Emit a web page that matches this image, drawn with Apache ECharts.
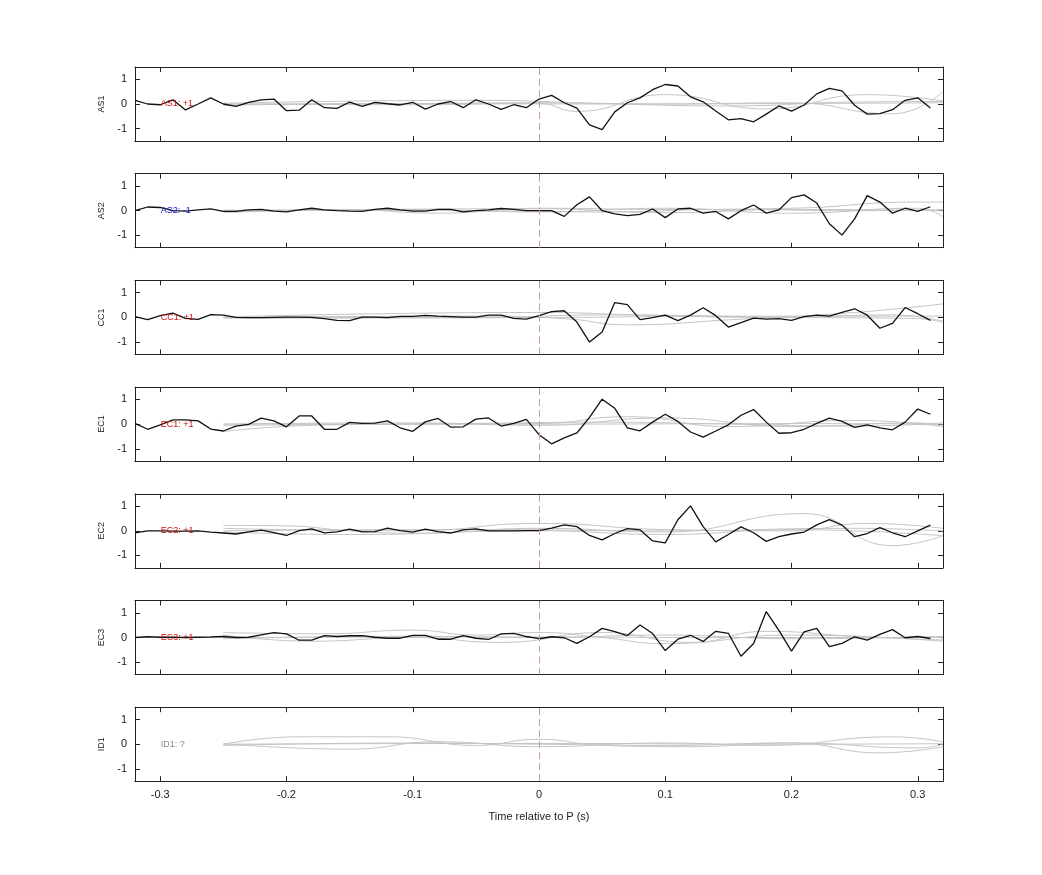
<!DOCTYPE html>
<html>
<head>
<meta charset="utf-8">
<script src="https://cdn.jsdelivr.net/npm/echarts@6/dist/echarts.min.js"></script>
<style>html,body{margin:0;background:#fff}#c{width:1042px;height:875px}</style>
</head>
<body>
<div id="c"></div>
<script>
const stations = ['AS1', 'AS2', 'CC1', 'EC1', 'EC2', 'EC3', 'ID1']
const polarity = ['+1', '-1', '+1', '+1', '+1', '+1', '?']
const polColor = ['#d01010', '#1010d0', '#d01010', '#d01010', '#d01010', '#d01010', '#888888']
const xTicks = [-0.3, -0.2, -0.1, 0, 0.1, 0.2, 0.3]
const yTicks = [-1, 0, 1]

// black trace: samples every 0.01 s from -0.32 to 0.31
const tStart = -0.32
const traces = [
    [0.15,0,-0.03,0.17,-0.24,0,0.25,0,-0.1,0.07,0.17,0.2,-0.27,-0.25,0.17,-0.15,-0.18,0.08,-0.1,0.07,0.01,-0.04,0.07,-0.21,0,0.1,-0.15,0.17,0,-0.22,-0.03,-0.15,0.2,
     0.35,0.05,-0.17,-0.85,-1.04,-0.32,0.05,0.25,0.58,0.79,0.73,0.29,0.09,-0.28,-0.64,-0.59,-0.72,-0.41,-0.08,-0.29,-0.04,0.41,0.63,0.53,-0.05,-0.41,-0.39,-0.23,0.15,0.25,-0.16],
    [0,0.15,0.13,0,-0.02,0.03,0.07,-0.03,-0.03,0.03,0.05,-0.02,-0.05,0.03,0.1,0.03,0,-0.02,-0.03,0.05,0.1,0.03,-0.02,-0.02,0.05,0.05,-0.05,0,0.03,0.09,0.05,0,0,
     0,-0.23,0.24,0.56,0,-0.13,-0.2,-0.15,0.07,-0.28,0.07,0.1,-0.1,-0.03,-0.33,0,0.23,-0.1,0.03,0.53,0.64,0.31,-0.53,-0.99,-0.33,0.61,0.35,-0.1,0.1,-0.03,0.16],
    [0.03,-0.09,0.07,0.17,-0.04,-0.08,0.11,0.09,0,-0.01,-0.01,0,0.01,0.01,0,-0.05,-0.12,-0.13,0.01,0.01,-0.01,0.04,0.04,0.08,0.05,0.03,0.01,0.01,0.09,0.09,-0.04,-0.07,0.07,
     0.23,0.27,-0.19,-1.0,-0.59,0.6,0.52,-0.09,-0.01,0.09,-0.13,0.09,0.39,0.07,-0.39,-0.21,-0.03,-0.07,-0.05,-0.12,0.03,0.09,0.05,0.2,0.35,0.09,-0.44,-0.24,0.4,0.15,-0.12],
    [0.03,-0.21,-0.03,0.17,0.17,0.13,-0.2,-0.28,-0.08,-0.01,0.24,0.13,-0.11,0.33,0.33,-0.21,-0.21,0.07,0.03,0.04,0.13,-0.15,-0.29,0.09,0.23,-0.12,-0.11,0.2,0.25,-0.08,0.03,0.19,-0.43,
     -0.8,-0.56,-0.36,0.27,1.01,0.64,-0.15,-0.27,0.08,0.4,0.11,-0.32,-0.53,-0.28,-0.03,0.36,0.59,0.08,-0.37,-0.35,-0.21,0.03,0.24,0.11,-0.13,-0.03,-0.15,-0.23,0.08,0.61,0.4],
    [-0.08,0,0,-0.01,-0.01,0,-0.05,-0.09,-0.13,-0.04,0.03,-0.07,-0.19,0.01,0.08,-0.08,-0.04,0.07,-0.04,-0.03,0.11,0.01,-0.05,0.07,-0.03,-0.09,0.04,0.08,0,0,0,0.01,0.01,
     0.11,0.24,0.17,-0.19,-0.37,-0.11,0.09,0.04,-0.41,-0.49,0.45,1.01,0.17,-0.45,-0.15,0.16,-0.08,-0.43,-0.24,-0.13,-0.05,0.24,0.45,0.23,-0.24,-0.11,0.13,-0.08,-0.24,0,0.23],
    [0,0.03,0.01,0.01,0,0.01,0.02,0.04,0,0.01,0.11,0.2,0.15,-0.11,-0.11,0.08,0.04,0.07,0.08,0.01,-0.03,-0.03,0.09,0.09,-0.07,-0.07,0.08,-0.03,-0.08,0.15,0.17,0.04,-0.05,
     0.03,-0.01,-0.24,0.03,0.37,0.24,0.08,0.51,0.16,-0.53,-0.07,0.09,-0.16,0.25,0.17,-0.76,-0.24,1.05,0.29,-0.55,0.23,0.37,-0.37,-0.24,0.03,-0.11,0.13,0.32,-0.01,0.04,-0.04],
    []
]

// grey synthetic traces, [time, amplitude] knots
const greys = [
    [[[-0.25,0],[-0.1,-0.03],[0,0.02],[0.03,-0.3],[0.1,0.38],[0.18,-0.2],[0.26,0.38],[0.32,0.12]],
     [[-0.25,0],[-0.1,0.02],[0,0.05],[0.1,0],[0.2,0.05],[0.28,-0.4],[0.32,0.5]],
     [[-0.25,0.03],[-0.05,0.15],[0.05,0.02],[0.15,-0.08],[0.25,0.08],[0.32,0.1]],
     [[-0.25,-0.05],[-0.1,0.02],[0.05,0],[0.2,0.02],[0.32,0.05]]],
    [[[-0.25,-0.08],[-0.15,0.03],[-0.08,-0.1],[0,0.1],[0.1,0.05],[0.2,0.1],[0.3,0.35],[0.32,0.35]],
     [[-0.25,0],[-0.1,0.05],[0,-0.05],[0.1,0.1],[0.2,-0.1],[0.3,0.1],[0.32,-0.25]],
     [[-0.25,0.02],[-0.05,0],[0.05,-0.05],[0.15,0.05],[0.25,0],[0.32,0.05]],
     [[-0.25,-0.03],[0,0.08],[0.1,-0.08],[0.2,0.05],[0.32,0]]],
    [[[-0.25,0],[-0.05,0.05],[0.02,-0.05],[0.07,-0.3],[0.15,-0.1],[0.25,0.2],[0.32,0.55]],
     [[-0.25,0.02],[0,0.2],[0.08,0.1],[0.18,0],[0.28,0.1],[0.32,-0.15]],
     [[-0.25,-0.03],[-0.05,-0.02],[0.05,0.1],[0.2,0],[0.3,-0.05],[0.32,-0.2]],
     [[-0.25,0],[0,0],[0.15,0.05],[0.32,0.05]]],
    [[[-0.25,-0.3],[-0.18,-0.05],[-0.1,0],[0,0.02],[0.07,0.3],[0.15,-0.1],[0.25,0.15],[0.32,-0.1]],
     [[-0.25,0],[-0.1,0.05],[0,-0.05],[0.1,0.25],[0.2,-0.1],[0.3,0.05],[0.32,-0.1]],
     [[-0.25,-0.05],[-0.05,0.03],[0.05,0.08],[0.15,0],[0.25,-0.08],[0.32,0.05]],
     [[-0.25,0],[0,0],[0.2,0.02],[0.32,0]]],
    [[[-0.25,0.22],[-0.2,0.2],[-0.15,0],[-0.1,-0.1],[0,0.1],[0.1,-0.05],[0.21,0.7],[0.28,-0.6],[0.32,-0.2]],
     [[-0.25,0.1],[-0.1,0],[0,0.3],[0.1,0.05],[0.2,0],[0.26,0.3],[0.32,0.1]],
     [[-0.25,-0.05],[-0.15,-0.15],[0,0],[0.1,-0.15],[0.2,0.05],[0.32,-0.2]],
     [[-0.25,0],[-0.05,0.05],[0.1,0],[0.25,0.1],[0.32,0]]],
    [[[-0.25,0.2],[-0.17,0.15],[-0.1,0.3],[-0.05,0.1],[0,0.2],[0.05,0],[0.1,-0.25],[0.2,0.1],[0.32,-0.15]],
     [[-0.25,0.1],[-0.18,-0.15],[-0.1,0],[-0.03,-0.2],[0.05,0.2],[0.12,-0.2],[0.18,0.25],[0.25,0.05],[0.32,-0.1]],
     [[-0.25,-0.05],[-0.1,0.05],[0,0],[0.1,0.1],[0.2,-0.05],[0.32,0.05]],
     [[-0.25,0],[0,0.02],[0.15,0],[0.32,0]]],
    [[[-0.25,0],[-0.19,0.3],[-0.12,0.3],[-0.05,-0.05],[0,0.2],[0.05,-0.05],[0.12,-0.1],[0.2,0.05],[0.27,-0.35],[0.32,-0.1]],
     [[-0.25,0.02],[-0.15,-0.2],[-0.08,0.1],[0,-0.1],[0.1,0.05],[0.18,-0.05],[0.28,0.3],[0.32,0.1]],
     [[-0.25,-0.05],[-0.1,0.05],[0,0],[0.1,-0.05],[0.2,0.05],[0.3,-0.15],[0.32,0]],
     [[-0.25,0],[0,0.03],[0.2,0],[0.32,0.02]]]
]

const chart = echarts.init(document.getElementById('c'))
const font = 'Liberation Sans, Arial, sans-serif'
const grid = [], xAxis = [], yAxis = [], series = []
const top0 = 67, step = 106.7, h = 74

stations.forEach((st, i) => {
    grid.push({ left: 135, width: 808, top: top0 + i * step, height: h })
    const last = i === stations.length - 1
    const axLine = { show: true, onZero: false, lineStyle: { color: '#222', width: 1 } }
    const tick = { show: true, inside: true, length: 5, lineStyle: { color: '#222' } }
    xAxis.push({
        gridIndex: i, type: 'value', min: -0.32, max: 0.32, position: 'bottom',
        axisLine: axLine, splitLine: { show: false },
        axisTick: Object.assign({ customValues: xTicks }, tick),
        axisLabel: { show: last, customValues: xTicks, color: '#222', fontSize: 11, fontFamily: font, margin: 8 },
        name: last ? 'Time relative to P (s)' : '', nameLocation: 'middle', nameGap: 30,
        nameTextStyle: { color: '#222', fontSize: 11, fontFamily: font }
    })
    xAxis.push({
        gridIndex: i, type: 'value', min: -0.32, max: 0.32, position: 'top',
        axisLine: axLine, axisTick: Object.assign({ customValues: xTicks }, tick),
        axisLabel: { show: false }, splitLine: { show: false }
    })
    yAxis.push({
        gridIndex: i, type: 'value', min: -1.5, max: 1.5, position: 'left',
        axisLine: axLine, axisTick: Object.assign({ customValues: yTicks }, tick),
        axisLabel: { customValues: yTicks, color: '#222', fontSize: 11, fontFamily: font, margin: 8 },
        splitLine: { show: false },
        name: st, nameLocation: 'middle', nameGap: 24, nameRotate: 90,
        nameTextStyle: { color: '#222', fontSize: 9, fontFamily: font }
    })
    yAxis.push({
        gridIndex: i, type: 'value', min: -1.5, max: 1.5, position: 'right',
        axisLine: axLine, axisTick: Object.assign({ customValues: yTicks }, tick),
        axisLabel: { show: false }, splitLine: { show: false }
    })
    greys[i].forEach(g => {
        series.push({
            type: 'line', xAxisIndex: 2 * i, yAxisIndex: 2 * i, data: g, smooth: 0.5,
            showSymbol: false, silent: true, lineStyle: { color: '#c4c4c4', width: 1 }
        })
    })
    series.push({
        type: 'line', xAxisIndex: 2 * i, yAxisIndex: 2 * i,
        data: traces[i].map((v, k) => [+(tStart + k * 0.01).toFixed(2), v]),
        showSymbol: false, lineStyle: { color: '#111', width: 1.3 },
        markLine: {
            silent: true, symbol: 'none', label: { show: false },
            lineStyle: { color: '#c89a9a', type: [7, 4], width: 1 },
            data: [{ xAxis: 0 }]
        },
        markPoint: {
            symbol: 'circle', symbolSize: 1, itemStyle: { color: 'rgba(0,0,0,0)' },
            label: { show: true, formatter: st + ': ' + polarity[i], color: polColor[i], fontSize: 9, fontFamily: font, position: 'right', distance: 0 },
            data: [{ coord: [-0.3, 0] }]
        }
    })
})

chart.setOption({ animation: false, grid, xAxis, yAxis, series })
</script>
</body>
</html>
